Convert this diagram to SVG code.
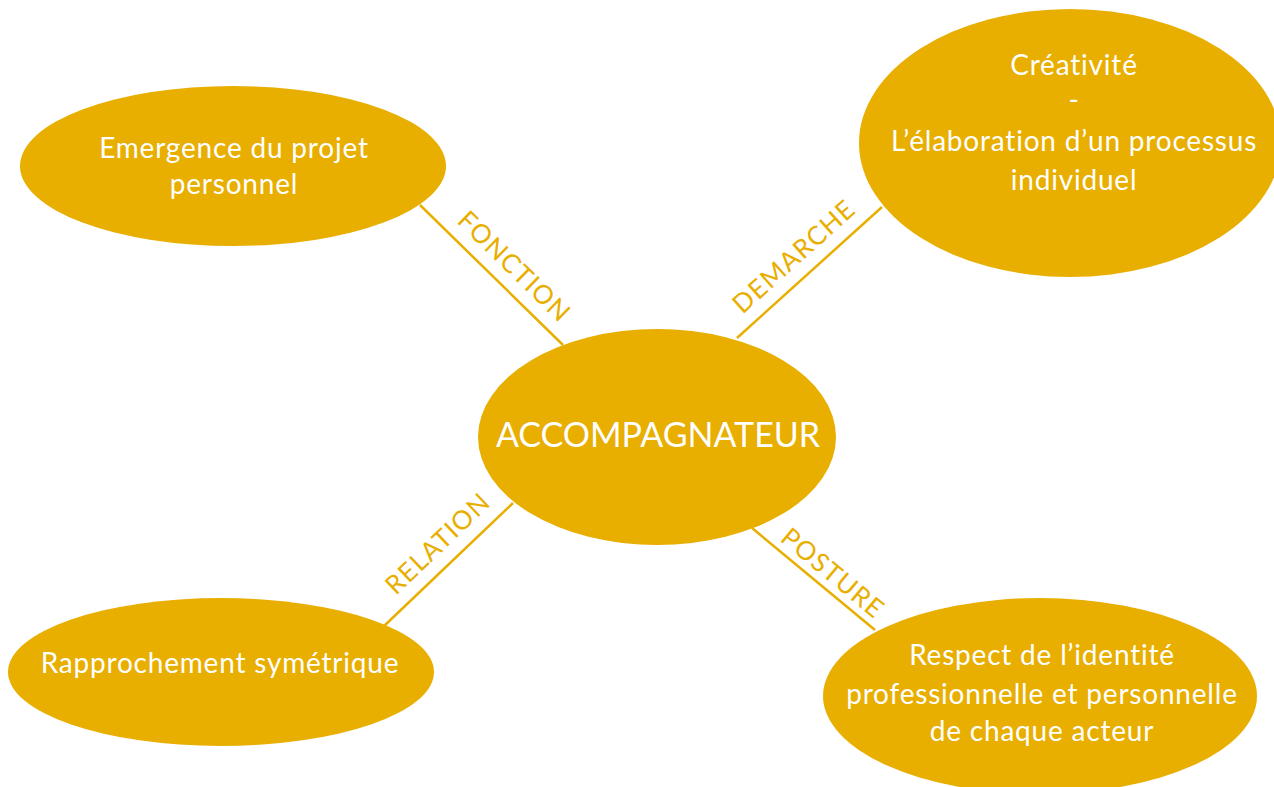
<svg xmlns="http://www.w3.org/2000/svg" width="1274" height="787" viewBox="0 0 1274 787">
<style>
.node{fill:#E8AE00}
.t{font-family:Lato,"Noto Sans",sans-serif;fill:#fff;font-size:28px;letter-spacing:0.8px;text-anchor:middle}
.lbl{font-family:Lato,"Noto Sans",sans-serif;fill:#E8AE00;font-size:26px;letter-spacing:1.2px;text-anchor:middle}
.edge{stroke:#E8AE00;stroke-width:2.5;fill:none}
</style>
<rect width="1274" height="787" fill="#fff"/>
<g id="connectors">
<line class="edge" x1="420" y1="205" x2="563" y2="345"/>
<line class="edge" x1="882" y1="207" x2="737" y2="338"/>
<line class="edge" x1="513" y1="503" x2="383" y2="627"/>
<line class="edge" x1="752" y1="528" x2="875" y2="630"/>
<text class="lbl" transform="translate(508,273) rotate(44.4)">FONCTION</text>
<text class="lbl" transform="translate(800,263) rotate(-42)">DEMARCHE</text>
<text class="lbl" transform="translate(444,550) rotate(-43.6)">RELATION</text>
<text class="lbl" transform="translate(827,580) rotate(39.7)">POSTURE</text>
</g>
<g id="center">
<ellipse class="node" cx="657" cy="437" rx="179" ry="108"/>
<text class="t" x="658" y="447" style="font-size:34px;letter-spacing:0">ACCOMPAGNATEUR</text>
</g>
<g id="fonction">
<ellipse class="node" cx="233" cy="166" rx="213" ry="80"/>
<text class="t" x="234" y="158">Emergence du projet</text>
<text class="t" x="234" y="194">personnel</text>
</g>
<g id="demarche">
<ellipse class="node" cx="1070" cy="143" rx="211" ry="134"/>
<text class="t" x="1074" y="75">Créativité</text>
<text class="t" x="1074" y="110">-</text>
<text class="t" x="1074" y="151">L’élaboration d’un processus</text>
<text class="t" x="1074" y="190">individuel</text>
</g>
<g id="relation">
<ellipse class="node" cx="221" cy="672" rx="213" ry="74"/>
<text class="t" x="220" y="673">Rapprochement symétrique</text>
</g>
<g id="posture">
<ellipse class="node" cx="1040" cy="696" rx="217" ry="98"/>
<text class="t" x="1042" y="665">Respect de l’identité</text>
<text class="t" x="1042" y="704">professionnelle et personnelle</text>
<text class="t" x="1042" y="741">de chaque acteur</text>
</g>
</svg>
